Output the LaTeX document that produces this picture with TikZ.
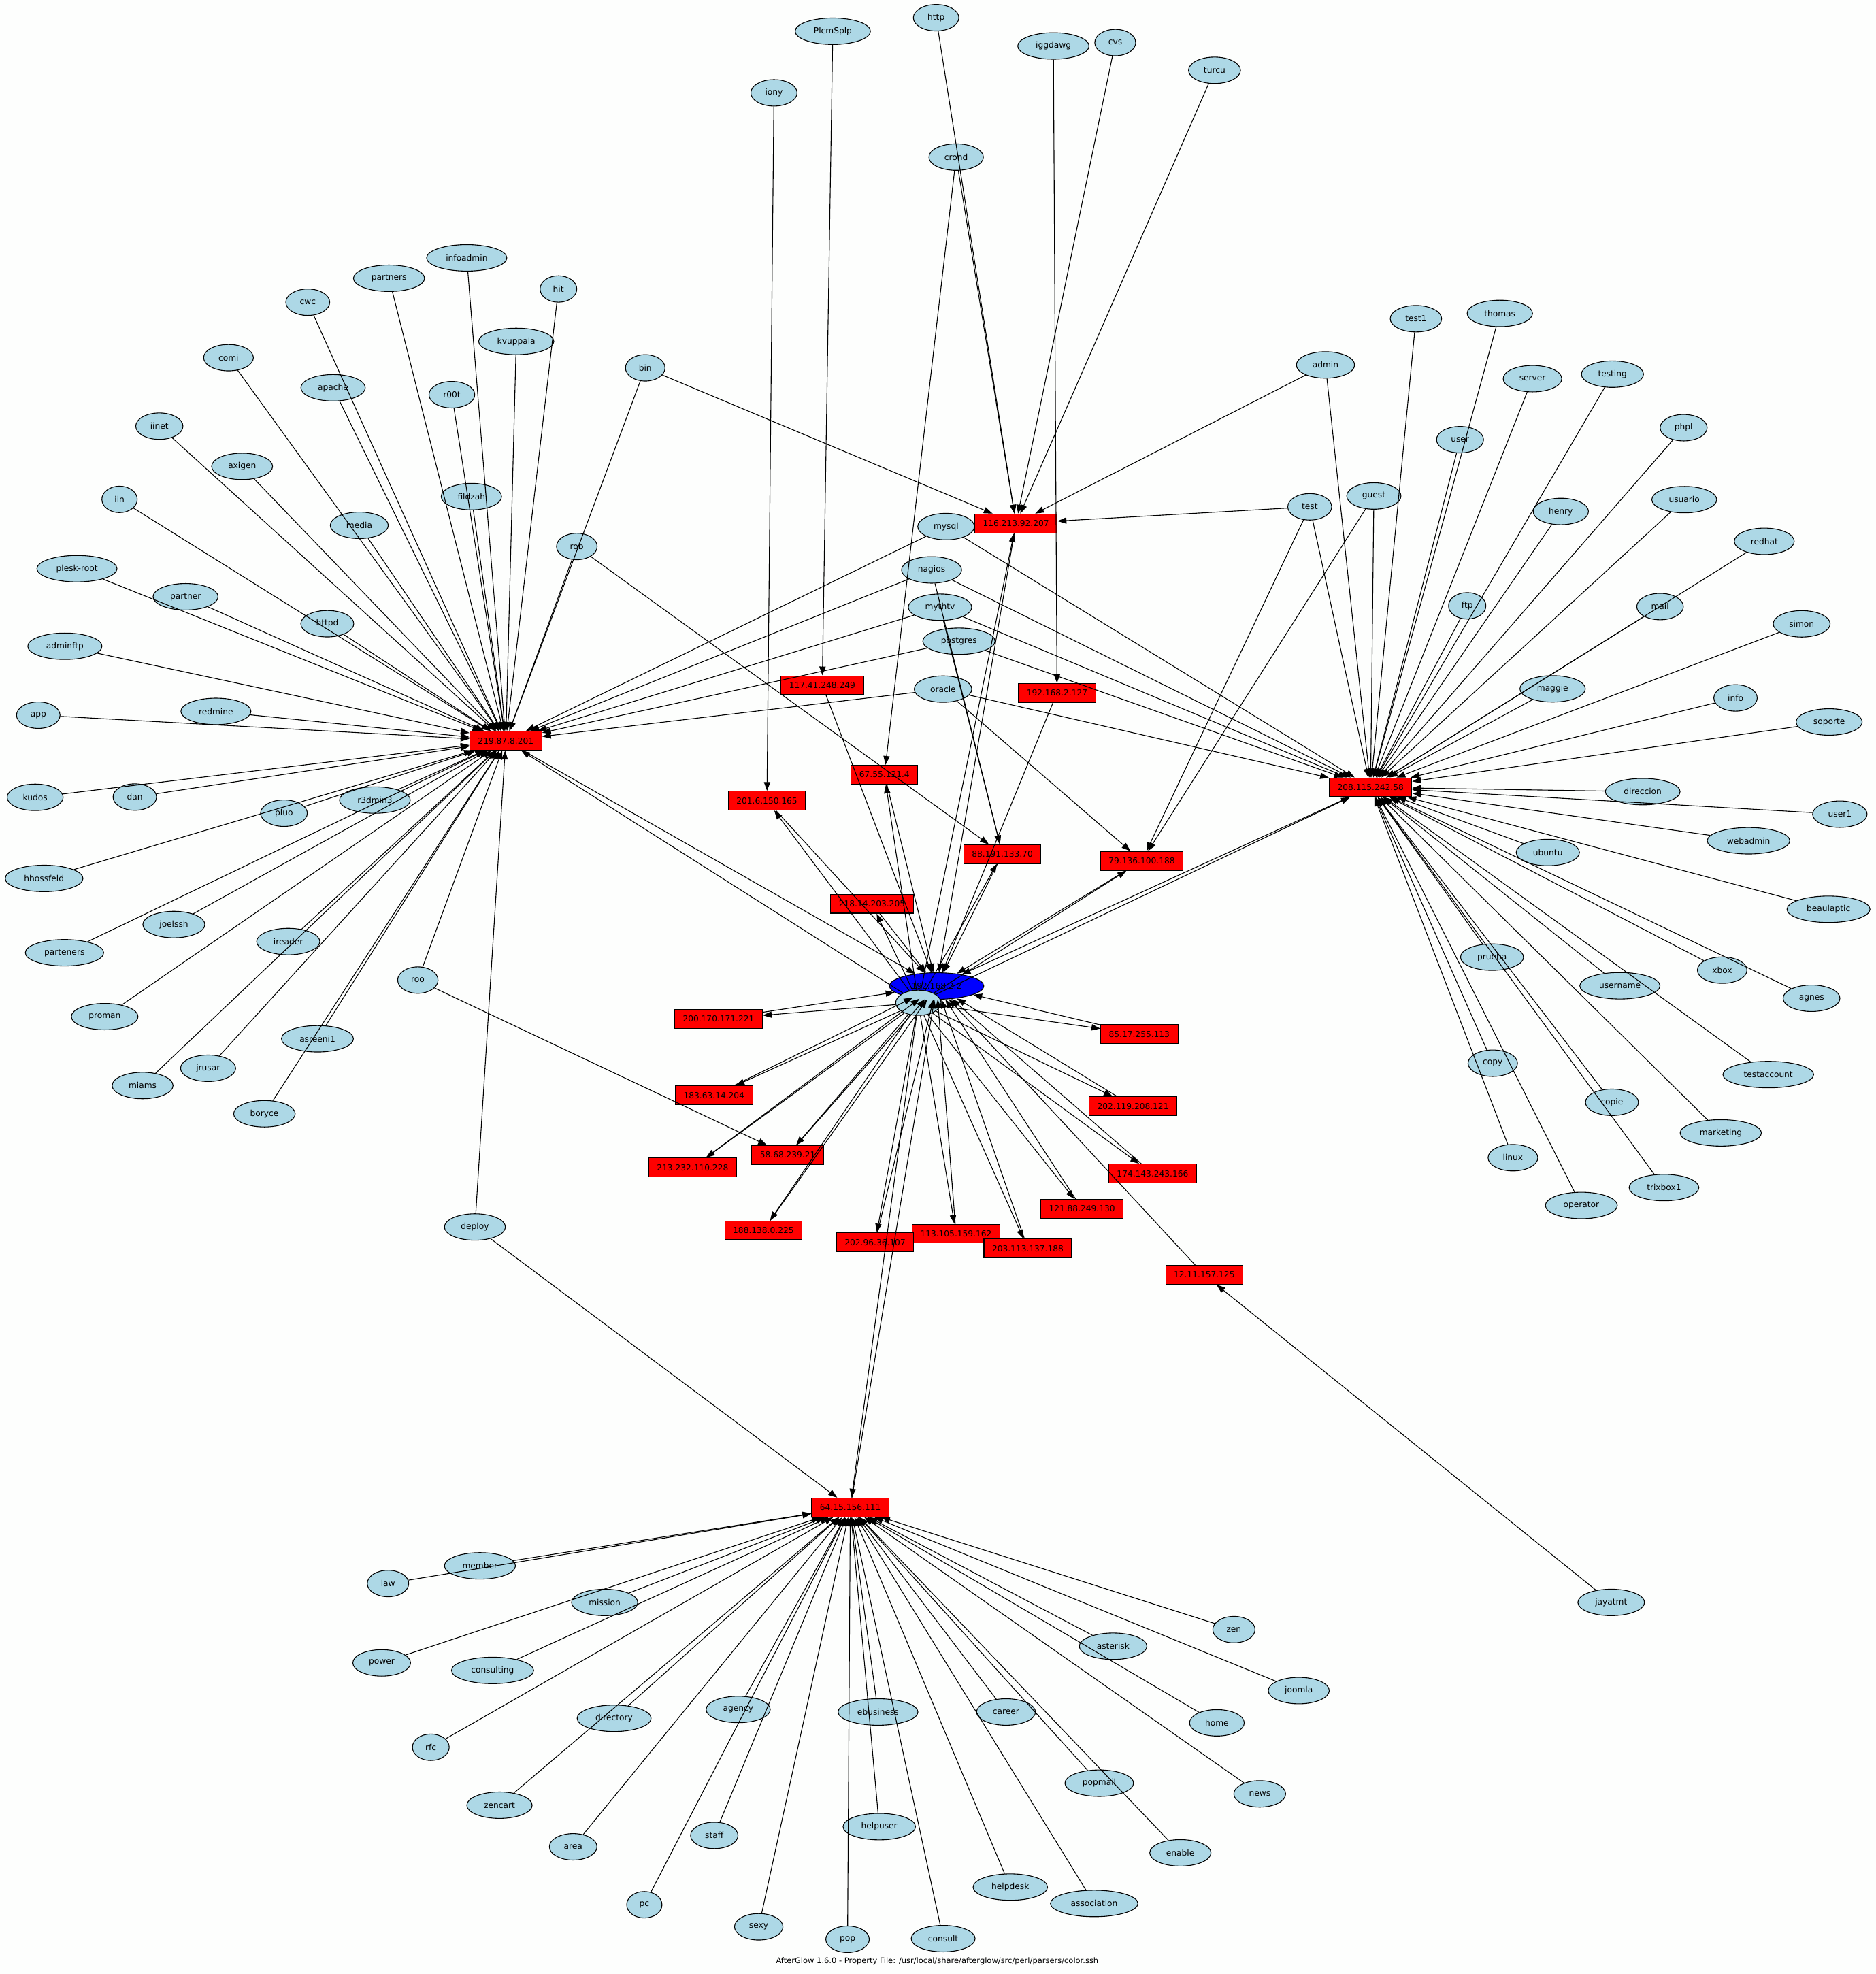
\documentclass[tikz,border=0pt]{standalone}
\usepackage{fontspec}
\setmainfont{DejaVu Sans}
\usepackage{xcolor}
\usepackage{tikz}
\usetikzlibrary{graphs}
\usetikzlibrary{shapes.geometric,arrows.meta}
\definecolor{lightblue}{HTML}{ADD8E6}
\definecolor{paper}{HTML}{FDFEFD}
\newcommand{\gvsize}{\fontsize{6.6pt}{7.5pt}\selectfont}
\tikzset{
	usr/.style={ellipse, draw, fill=lightblue, line width=0.6pt, minimum height=21pt, inner xsep=6pt, inner ysep=2pt, font=\gvsize},
	host/.style={rectangle, draw, fill=red, line width=0.6pt, minimum height=15pt, inner xsep=6.5pt, inner ysep=2pt, font=\gvsize},
	wire/.style={line width=0.6pt}
}

\begin{document}
\begin{tikzpicture}[x=1pt, y=-1pt, >={Triangle[length=7pt,width=5pt]}]
	\fill[paper] (0,0) rectangle (1489,1567);
	\useasboundingbox (0,0) rectangle (1489,1567);

	% left users
	\node[usr] (infoadmin) at (370.5,204.7) {infoadmin};
	\node[usr] (partners) at (308.8,220.9) {partners};
	\node[usr] (hit) at (443.3,229.4) {hit};
	\node[usr] (cwc) at (244.3,239.9) {cwc};
	\node[usr] (kvuppala) at (409.8,271) {kvuppala};
	\node[usr] (comi) at (181.4,283.9) {comi};
	\node[usr] (apache) at (264.4,307.8) {apache};
	\node[usr] (r00t) at (358.7,313.3) {r00t};
	\node[usr] (iinet) at (126.5,338.3) {iinet};
	\node[usr] (axigen) at (192.2,370.2) {axigen};
	\node[usr] (iin) at (94.9,396.4) {iin};
	\node[usr] (fildzah) at (374.2,394.2) {fildzah};
	\node[usr] (media) at (285.2,417) {media};
	\node[usr] (rob) at (457.9,433.8) {rob};
	\node[usr] (pleskroot) at (61.1,451.4) {plesk-root};
	\node[usr] (partner) at (147.3,473.7) {partner};
	\node[usr] (httpd) at (259.8,495.1) {httpd};
	\node[usr] (adminftp) at (51.5,513) {adminftp};
	\node[usr] (redmine) at (171.4,564.7) {redmine};
	\node[usr] (app) at (30.4,567.7) {app};
	\node[usr] (kudos) at (27.9,632.9) {kudos};
	\node[usr] (dan) at (107,632.7) {dan};
	\node[usr] (r3dmin3) at (297.6,635.1) {r3dmin3};
	\node[usr] (pluo) at (225.4,645.5) {pluo};
	\node[usr] (hhossfeld) at (35,697.3) {hhossfeld};
	\node[usr] (joelssh) at (138,733.9) {joelssh};
	\node[usr] (ireader) at (228.8,747.4) {ireader};
	\node[usr] (parteners) at (51.2,756.3) {parteners};
	\node[usr] (roo) at (331.7,778) {roo};
	\node[usr] (proman) at (83.1,807) {proman};
	\node[usr] (asreeni1) at (252,824.6) {asreeni1};
	\node[usr] (jrusar) at (165.2,848) {jrusar};
	\node[usr] (miams) at (113.2,861.7) {miams};
	\node[usr] (boryce) at (209.9,884.1) {boryce};
	\node[usr] (deploy) at (377,974) {deploy};

	% top users
	\node[usr] (iony) at (614.4,73.7) {iony};
	\node[usr] (plcmsplp) at (661.1,24.8) {PlcmSplp};
	\node[usr] (http) at (743.1,14.1) {http};
	\node[usr] (crond) at (759,124.7) {crond};
	\node[usr] (iggdawg) at (836.2,36.5) {iggdawg};
	\node[usr] (cvs) at (885.3,33.8) {cvs};
	\node[usr] (turcu) at (964.1,55.8) {turcu};
	\node[usr] (bin) at (512.2,292) {bin};
	\node[usr] (admin) at (1052.2,289.7) {admin};
	\node[usr] (test) at (1039.7,402.3) {test};
	\node[usr] (guest) at (1090.6,393.7) {guest};
	\node[usr] (mysql) at (751,418) {mysql};
	\node[usr] (nagios) at (739.5,452.4) {nagios};
	\node[usr] (mythtv) at (746.2,482) {mythtv};
	\node[usr] (postgres) at (761.2,509) {postgres};
	\node[usr] (oracle) at (748.6,547) {oracle};

	% hosts
	\node[host] (t219) at (401.5,588) {219.87.8.201};
	\node[host] (t116) at (806.5,415.5) {116.213.92.207};
	\node[host] (t208) at (1088,625) {208.115.242.58};
	\node[host] (t64) at (675,1196.6) {64.15.156.111};
	\node[host] (t117) at (652.7,543.9) {117.41.248.249};
	\node[host] (t192) at (839.1,550) {192.168.2.127};
	\node[host] (t67) at (702.1,614.9) {67.55.121.4};
	\node[host] (t201) at (608.8,635.6) {201.6.150.165};
	\node[host] (t88) at (795.7,678) {88.191.133.70};
	\node[host] (t79) at (906.4,683.4) {79.136.100.188};
	\node[host] (t218) at (692.2,717.4) {218.14.203.205};
	\node[host] (t200) at (570.4,808.8) {200.170.171.221};
	\node[host] (t85) at (904.4,820.9) {85.17.255.113};
	\node[host] (t183) at (566.8,869.5) {183.63.14.204};
	\node[host] (t2021) at (899.4,878.1) {202.119.208.121};
	\node[host] (t58) at (625.3,916.9) {58.68.239.21};
	\node[host] (t213) at (549.8,926.8) {213.232.110.228};
	\node[host] (t174) at (915,931.6) {174.143.243.166};
	\node[host] (t121) at (858.9,959.5) {121.88.249.130};
	\node[host] (t188) at (606,976.6) {188.138.0.225};
	\node[host] (t113) at (758.9,979.3) {113.105.159.162};
	\node[host] (t2022) at (694.7,986.2) {202.96.36.107};
	\node[host] (t203) at (815.9,991) {203.113.137.188};
	\node[host] (t12) at (956,1012) {12.11.157.125};
	\node[ellipse, draw, fill=blue, line width=0.6pt, minimum width=75pt, minimum height=21pt, inner sep=0pt, font=\gvsize] (src) at (743.5,782.7) {192.168.2.2};
	\node[usr, minimum width=36pt, minimum height=20pt] (hub) at (729,796) {};

	% right users
	\node[usr] (test1) at (1124,253) {test1};
	\node[usr] (thomas) at (1190.6,248.8) {thomas};
	\node[usr] (server) at (1216.5,300.6) {server};
	\node[usr] (testing) at (1280,297) {testing};
	\node[usr] (user) at (1159,349) {user};
	\node[usr] (phpl) at (1336.5,339.5) {phpl};
	\node[usr] (henry) at (1239,406) {henry};
	\node[usr] (usuario) at (1337,396.6) {usuario};
	\node[usr] (redhat) at (1400.5,429.7) {redhat};
	\node[usr] (ftp) at (1164.7,480.9) {ftp};
	\node[usr] (mail) at (1317.8,481.5) {mail};
	\node[usr] (simon) at (1430.2,495.2) {simon};
	\node[usr] (maggie) at (1232.5,546.8) {maggie};
	\node[usr] (info) at (1377.7,554) {info};
	\node[usr] (soporte) at (1452,573.1) {soporte};
	\node[usr] (direccion) at (1304,628.4) {direccion};
	\node[usr] (user1) at (1460.5,646.3) {user1};
	\node[usr] (webadmin) at (1388,667.4) {webadmin};
	\node[usr] (ubuntu) at (1228.7,676.7) {ubuntu};
	\node[usr] (beaulaptic) at (1451.5,721.8) {beaulaptic};
	\node[usr] (prueba) at (1184.4,759.8) {prueba};
	\node[usr] (xbox) at (1367.1,770.1) {xbox};
	\node[usr] (username) at (1285.9,782.5) {username};
	\node[usr] (agnes) at (1438,792.4) {agnes};
	\node[usr] (copy) at (1185,844) {copy};
	\node[usr] (testaccount) at (1403.7,853) {testaccount};
	\node[usr] (copie) at (1279.6,875) {copie};
	\node[usr] (marketing) at (1366,899.3) {marketing};
	\node[usr] (linux) at (1201,919) {linux};
	\node[usr] (trixbox1) at (1320.9,942.7) {trixbox1};
	\node[usr] (operator) at (1255.3,956.9) {operator};
	\node[usr] (jayatmt) at (1279,1272) {jayatmt};

	% bottom users
	\node[usr] (member) at (381,1243) {member};
	\node[usr] (law) at (308,1257) {law};
	\node[usr] (mission) at (480,1272) {mission};
	\node[usr] (power) at (303,1320) {power};
	\node[usr] (consulting) at (391,1326) {consulting};
	\node[usr] (rfc) at (342,1387) {rfc};
	\node[usr] (directory) at (487.5,1364) {directory};
	\node[usr] (agency) at (586,1357) {agency};
	\node[usr] (ebusiness) at (697,1359) {ebusiness};
	\node[usr] (career) at (798.6,1359) {career};
	\node[usr] (asterisk) at (883.6,1306.8) {asterisk};
	\node[usr] (zen) at (979.5,1293.6) {zen};
	\node[usr] (joomla) at (1031,1342) {joomla};
	\node[usr] (home) at (966,1367.6) {home};
	\node[usr] (popmail) at (872.6,1415.5) {popmail};
	\node[usr] (news) at (1000,1424) {news};
	\node[usr] (zencart) at (396.5,1433) {zencart};
	\node[usr] (area) at (455,1466) {area};
	\node[usr] (staff) at (567,1457) {staff};
	\node[usr] (helpuser) at (698,1450) {helpuser};
	\node[usr] (enable) at (937,1470.8) {enable};
	\node[usr] (helpdesk) at (802,1498) {helpdesk};
	\node[usr] (association) at (868.6,1511) {association};
	\node[usr] (pc) at (511.5,1512) {pc};
	\node[usr] (sexy) at (602.3,1529.5) {sexy};
	\node[usr] (pop) at (672.8,1539.4) {pop};
	\node[usr] (consult) at (748.7,1538.9) {consult};

	\node[font=\fontsize{6.2pt}{7pt}\selectfont] (footer) at (744,1557) {AfterGlow 1.6.0 - Property File: /usr/local/share/afterglow/src/perl/parsers/color.ssh};

	\graph[use existing nodes, multi, edges={wire}]{
		{infoadmin, partners, hit, cwc, kvuppala, comi, apache, r00t, iinet, axigen, iin, fildzah, media, rob, bin, pleskroot, partner, httpd, adminftp, redmine, app, kudos, dan, r3dmin3, pluo, hhossfeld, joelssh, ireader, parteners, roo, proman, asreeni1, jrusar, miams, boryce, deploy, mysql, nagios, mythtv, postgres, oracle} -> t219;
		{http, crond, cvs, turcu, bin, admin, test} -> t116;
		iony -> t201; plcmsplp -> t117; iggdawg -> t192; crond -> t67;
		{rob, nagios, mythtv} -> t88;
		{oracle, test, guest} -> t79;
		roo -> t58; jayatmt -> t12;
		{test1, thomas, server, testing, user, phpl, henry, usuario, redhat, ftp, mail, simon, maggie, info, soporte, direccion, user1, webadmin, ubuntu, beaulaptic, prueba, xbox, username, agnes, copy, testaccount, copie, marketing, linux, trixbox1, operator, admin, test, guest, mysql, nagios, mythtv, postgres, oracle} -> t208;
		{member, law, mission, power, consulting, rfc, directory, agency, ebusiness, career, asterisk, zen, joomla, home, popmail, news, zencart, area, staff, helpuser, enable, helpdesk, association, pc, sexy, pop, consult, deploy} -> t64;
		hub -> {t219, t116, t208, t64, t201, t67, t88, t79, t218, t200, t85, t183, t2021, t58, t213, t174, t121, t188, t113, t2022, t203};
		{t219, t116, t208, t64, t201, t67, t88, t79, t218, t200, t85, t183, t2021, t58, t213, t174, t121, t188, t113, t2022, t203, t117, t192, t12} -> src;
	};
\end{tikzpicture}
\end{document}
